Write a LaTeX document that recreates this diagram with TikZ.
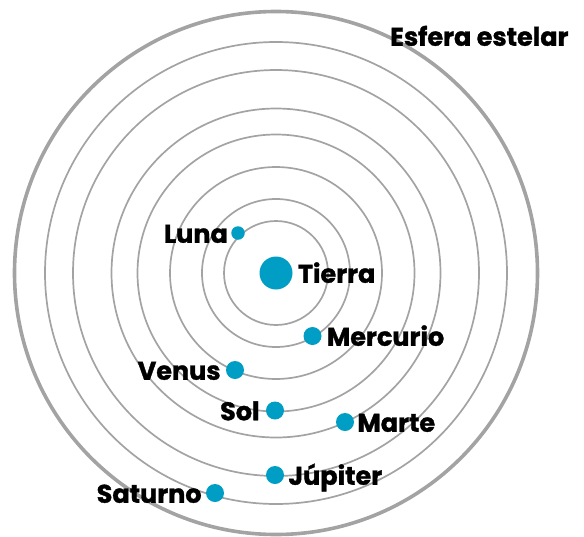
\documentclass[tikz,border=0pt]{standalone}
\usepackage{fontspec}
\setsansfont{Poppins}[BoldFeatures={FakeBold=1.3}]
\usetikzlibrary{positioning}
\definecolor{ringgray}{HTML}{A3A3A3}
\definecolor{planet}{HTML}{009DC4}

\begin{document}
\begin{tikzpicture}[
  x=1pt, y=-1pt,
  font=\sffamily\bfseries\fontsize{25.5}{28}\selectfont,
  ring/.style={draw=ringgray, line width=1.7pt},
  outerring/.style={draw=ringgray, line width=3.6pt},
  body/.style={circle, fill=planet, inner sep=0pt, minimum size=18pt},
  moon/.style={body, minimum size=13.5pt},
  earth/.style={body, minimum size=33pt},
  lbl/.style={inner sep=0pt, text height=17.5pt, text depth=0pt, yshift=-1pt}
]
\useasboundingbox (0,0) rectangle (584,536);
\coordinate (c) at (276,273);
\foreach \r in {52,74,106,138.5,164.5,203,231}
  \draw[ring] (c) circle[radius=\r pt];
\draw[outerring] (c) circle[radius=261.5pt];

\node[earth] (tierra) at (276,273) {};
\node[moon] (luna) at (238,233) {};
\node[body] (mercurio) at (312.5,336) {};
\node[body] (venus) at (235,370) {};
\node[body] (sol) at (275,410.5) {};
\node[body] (marte) at (345,422) {};
\node[body] (jupiter) at (275,475) {};
\node[body] (saturno) at (215,493) {};

\node[lbl, right=5pt of tierra] (tierralbl) {Tierra};
\node[lbl, left=3pt of luna] (lunalbl) {Luna};
\node[lbl, right=5pt of mercurio] (mercuriolbl) {Mercurio};
\node[lbl, left=5pt of venus] (venuslbl) {Venus};
\node[lbl, left=6pt of sol] (sollbl) {Sol};
\node[lbl, right=3pt of marte] (martelbl) {Marte};
\node[lbl, right=4pt of jupiter] (jupiterlbl) {Júpiter};
\node[lbl, left=4pt of saturno] (saturnolbl) {Saturno};
\node[lbl, anchor=west] (esfera) at (390,36) {Esfera estelar};
\end{tikzpicture}
\end{document}
